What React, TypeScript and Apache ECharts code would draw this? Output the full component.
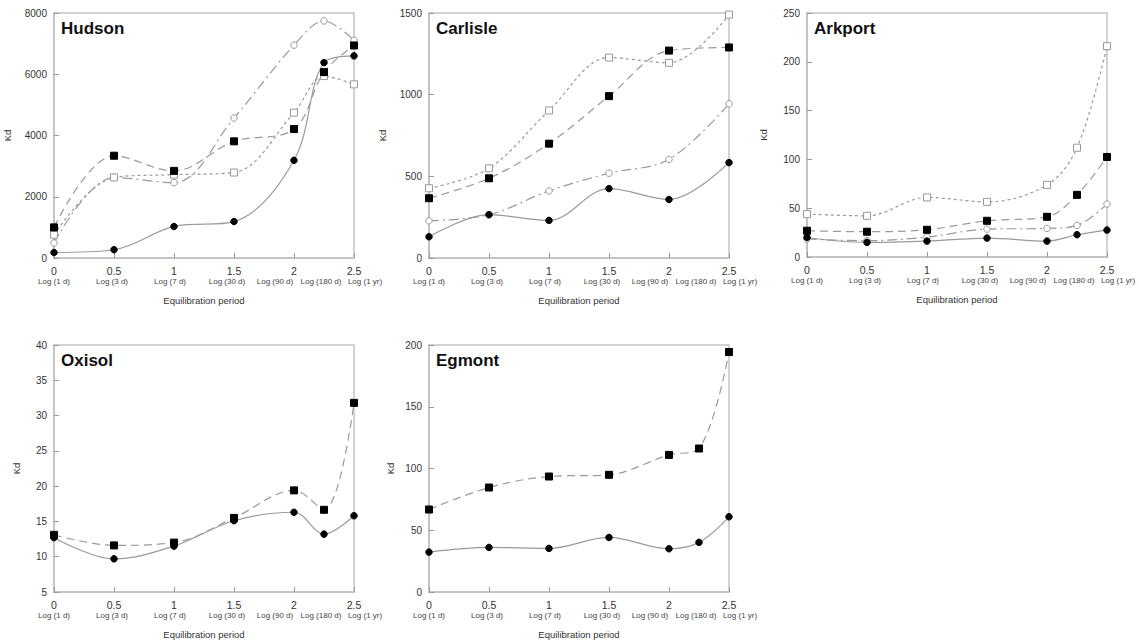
import React, { useEffect, useRef } from "react";
import * as echarts from "echarts";

// x positions (log10 of equilibration days)
const X7 = [0, 0.5, 1, 1.5, 2, 2.25, 2.5];
const X6 = [0, 0.5, 1, 1.5, 2, 2.5];
const LOG_LABELS = ["Log (1 d)", "Log (3 d)", "Log (7 d)", "Log (30 d)", "Log (90 d)", "Log (180 d)", "Log (1 yr)"];

// Hudson
const hudsonSolid = [180, 270, 1030, 1190, 3190, 6380, 6600];
const hudsonDashed = [1000, 3340, 2845, 3810, 4210, 6070, 6940];
const hudsonDotted = [760, 2630, 2720, 2790, 4745, 5940, 5670];
const hudsonDashDot = [490, 2630, 2460, 4570, 6950, 7740, 7110];

// Carlisle
const carlisleSolid = [130, 265, 230, 425, 358, 584];
const carlisleDashed = [366, 488, 700, 991, 1270, 1289];
const carlisleDotted = [427, 549, 903, 1227, 1195, 1490];
const carlisleDashDot = [228, 265, 411, 519, 604, 944];

// Arkport
const arkportSolid = [20, 15, 16.3, 19.4, 16.3, 22.8, 27.6];
const arkportDashed = [26.9, 25.9, 27.9, 37.1, 41.2, 63.7, 102.5];
const arkportDotted = [43.9, 42.2, 61, 56.5, 73.9, 112, 216];
const arkportDashDot = [18.4, 16.7, 20.4, 28.6, 29.3, 32.4, 54.2];

// Oxisol
const oxisolSolid = [12.7, 9.7, 11.5, 15.1, 16.3, 13.2, 15.8];
const oxisolDashed = [13.1, 11.6, 12.0, 15.5, 19.4, 16.65, 31.8];

// Egmont
const egmontSolid = [32.3, 36.1, 35.3, 44.2, 35, 40.2, 60.9];
const egmontDashed = [66.8, 84.6, 93.5, 94.9, 111, 116.2, 194.3];

const FONT = "Liberation Sans, Arial, Helvetica, sans-serif";
const LINE = "#9a9a9a";
const FRAME = "#c4c4c4";
const TEXT = "#333";

const STYLES: Record<string, any> = {
  solid: { type: "solid", symbol: "circle", size: 6.5, fill: "#000", stroke: "#000" },
  dashed: { type: [8, 5], symbol: "rect", size: 7, fill: "#000", stroke: "#000" },
  dotted: { type: [3, 3], symbol: "rect", size: 7, fill: "#fff", stroke: "#999" },
  dashdot: { type: [10, 4, 2, 4], symbol: "circle", size: 6.5, fill: "#fff", stroke: "#999" },
};

const PANELS = [
  {
    name: "Hudson", grid: { left: 54, top: 13, width: 300, height: 245 },
    min: 0, max: 8000, interval: 2000, nameGap: 42,
    series: [
      { x: X7, y: hudsonDashDot, s: "dashdot" },
      { x: X7, y: hudsonDotted, s: "dotted" },
      { x: X7, y: hudsonDashed, s: "dashed" },
      { x: X7, y: hudsonSolid, s: "solid" },
    ],
  },
  {
    name: "Carlisle", grid: { left: 429, top: 13, width: 300, height: 245 },
    min: 0, max: 1500, interval: 500, nameGap: 42,
    series: [
      { x: X6, y: carlisleDashDot, s: "dashdot" },
      { x: X6, y: carlisleDotted, s: "dotted" },
      { x: X6, y: carlisleDashed, s: "dashed" },
      { x: X6, y: carlisleSolid, s: "solid" },
    ],
  },
  {
    name: "Arkport", grid: { left: 807, top: 13, width: 300, height: 244 },
    min: 0, max: 250, interval: 50, nameGap: 39,
    series: [
      { x: X7, y: arkportDashDot, s: "dashdot" },
      { x: X7, y: arkportDotted, s: "dotted" },
      { x: X7, y: arkportDashed, s: "dashed" },
      { x: X7, y: arkportSolid, s: "solid" },
    ],
  },
  {
    name: "Oxisol", grid: { left: 54, top: 345, width: 300, height: 247 },
    min: 5, max: 40, interval: 5, nameGap: 33,
    series: [
      { x: X7, y: oxisolDashed, s: "dashed" },
      { x: X7, y: oxisolSolid, s: "solid" },
    ],
  },
  {
    name: "Egmont", grid: { left: 429, top: 345, width: 300, height: 247 },
    min: 0, max: 200, interval: 50, nameGap: 34,
    series: [
      { x: X7, y: egmontDashed, s: "dashed" },
      { x: X7, y: egmontSolid, s: "solid" },
    ],
  },
];

// horizontal offsets (px from plot left) of the log-label row, as typed in the original figure
const LOG_LABEL_OFFSETS = [0, 58, 116, 173, 221, 267, 311];

export default function App() {
  const ref = useRef<HTMLDivElement>(null);
  useEffect(() => {
    if (!ref.current) return;
    const chart = echarts.init(ref.current, null, { renderer: "svg" });
    const grid: any[] = [];
    const xAxis: any[] = [];
    const yAxis: any[] = [];
    const series: any[] = [];
    const title: any[] = [];
    const graphic: any[] = [];

    PANELS.forEach((p, i) => {
      grid.push({ ...p.grid, show: true, borderColor: FRAME, borderWidth: 1.5, backgroundColor: "transparent" });
      xAxis.push({
        type: "value", gridIndex: i, min: 0, max: 2.5, interval: 0.5,
        name: "Equilibration period", nameLocation: "middle", nameGap: 37,
        nameTextStyle: { fontFamily: FONT, fontSize: 9.5, color: TEXT },
        axisLine: { show: true, onZero: false, lineStyle: { color: FRAME, width: 2 } },
        axisTick: { show: true, inside: true, length: 5, lineStyle: { color: "#999" } },
        axisLabel: { margin: 7, fontFamily: FONT, fontSize: 10.5, color: TEXT, formatter: (v: number) => String(v) },
        splitLine: { show: false },
      });
      yAxis.push({
        type: "value", gridIndex: i, min: p.min, max: p.max, interval: p.interval,
        name: "Kd", nameLocation: "middle", nameGap: p.nameGap,
        nameTextStyle: { fontFamily: FONT, fontSize: 9.5, color: TEXT },
        axisLine: { show: true, onZero: false, lineStyle: { color: FRAME, width: 2 } },
        axisTick: { show: true, inside: true, length: 5, lineStyle: { color: "#999" } },
        axisLabel: { margin: 7, fontFamily: FONT, fontSize: 10, color: TEXT, formatter: (v: number) => String(v) },
        splitLine: { show: false },
      });
      title.push({
        text: p.name, left: p.grid.left + 7, top: p.grid.top + 7,
        textStyle: { fontFamily: FONT, fontSize: 17, fontWeight: "bold", color: "#111" },
        padding: 0,
      });
      p.series.forEach((s) => {
        const st = STYLES[s.s];
        series.push({
          type: "line", xAxisIndex: i, yAxisIndex: i,
          data: s.x.map((x, k) => [x, s.y[k]]),
          smooth: 0.35,
          symbol: st.symbol, symbolSize: st.size,
          lineStyle: { color: LINE, width: 1.2, type: st.type },
          itemStyle: { color: st.fill, borderColor: st.stroke, borderWidth: 1 },
          z: 3,
        });
      });
      LOG_LABELS.forEach((lab, k) => {
        graphic.push({
          type: "text",
          x: p.grid.left + LOG_LABEL_OFFSETS[k],
          y: p.grid.top + p.grid.height + 23,
          style: { text: lab, fontFamily: FONT, fontSize: 8, fill: "#444", align: "center", verticalAlign: "middle" },
        });
      });
    });

    chart.setOption({
      animation: false,
      backgroundColor: "#fff",
      title, grid, xAxis, yAxis, series, graphic,
    });
    return () => chart.dispose();
  }, []);
  return <div ref={ref} style={{ position: "absolute", left: 0, top: 0, width: 1139, height: 642 }} />;
}
